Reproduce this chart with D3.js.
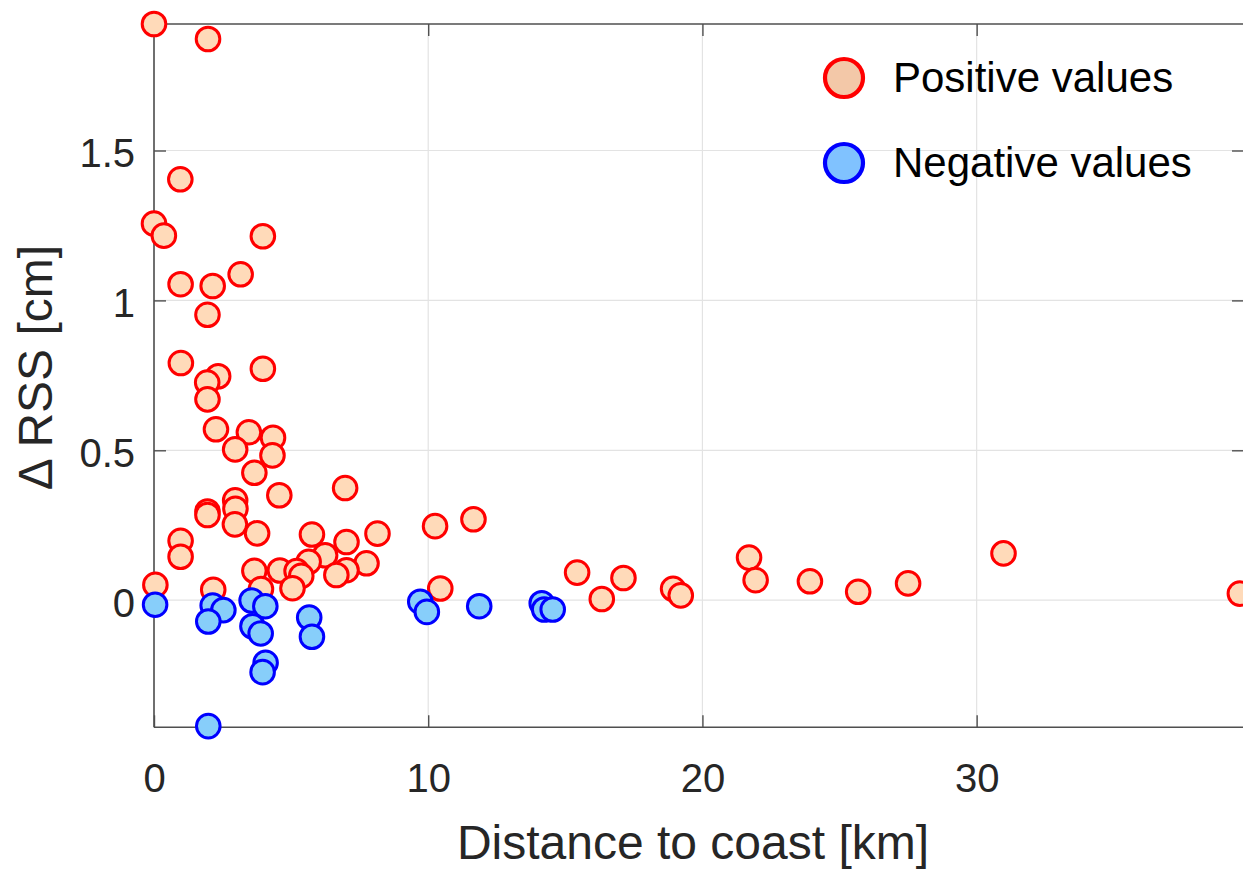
<!DOCTYPE html>
<html>
<head>
<meta charset="utf-8">
<script src="https://cdn.jsdelivr.net/npm/d3@7"></script>
<style>
  html, body { margin: 0; padding: 0; background: #ffffff; }
  svg { display: block; font-family: "Liberation Sans", Arial, sans-serif; }
</style>
</head>
<body>
<svg id="chart" width="1243" height="870"></svg>
<script>
// Distance to coast [km] and ΔRSS [cm] for stations with positive change
const posX = [0.00, 1.97, 0.96, 0.00, 0.36, 3.97, 0.97, 2.14, 3.16, 1.95,
              0.98, 3.97, 2.34, 1.94, 1.95, 2.26, 3.46, 4.34, 2.96, 4.32,
              3.66, 4.57, 6.97, 2.96, 2.97, 1.95, 1.95, 2.95, 3.76, 5.76,
              8.15, 7.02, 0.97, 0.97, 6.24, 5.64, 7.75, 7.02, 6.65, 3.66,
              4.59, 5.20, 5.37, 5.05, 3.90, 0.05, 2.16, 10.25, 11.65, 10.44,
              15.43, 16.33, 17.12, 18.93, 19.21, 21.70, 21.94, 23.92, 25.68, 27.50,
              30.98, 39.60];
const posY = [1.922, 1.872, 1.404, 1.256, 1.216, 1.214, 1.054, 1.048, 1.087, 0.952,
              0.791, 0.772, 0.747, 0.726, 0.670, 0.570, 0.560, 0.542, 0.503, 0.483,
              0.425, 0.350, 0.374, 0.333, 0.305, 0.296, 0.284, 0.253, 0.223, 0.219,
              0.222, 0.194, 0.198, 0.145, 0.150, 0.128, 0.123, 0.100, 0.084, 0.098,
              0.099, 0.097, 0.081, 0.040, 0.037, 0.051, 0.035, 0.247, 0.270, 0.039,
              0.092, 0.004, 0.074, 0.038, 0.016, 0.142, 0.067, 0.063, 0.028, 0.056,
              0.156, 0.022];

// Stations with negative change
const negX = [0.04, 2.14, 2.53, 1.98, 3.56, 4.06, 3.59, 3.89, 5.66, 5.76,
              4.07, 3.96, 1.98, 9.71, 9.95, 11.86, 14.14, 14.23, 14.54];
const negY = [-0.015, -0.018, -0.033, -0.071, -0.001, -0.020, -0.087, -0.111, -0.058, -0.122,
              -0.209, -0.240, -0.420, -0.005, -0.039, -0.020, -0.010, -0.031, -0.031];

const xTicks = [0, 10, 20, 30];
const yTicks = [0, 0.5, 1, 1.5];
const yTickLabels = ["0", "0.5", "1", "1.5"];
const seriesNames = ["Positive values", "Negative values"];

const svg = d3.select("#chart");
const plotL = 154, plotR = 1244, plotT = 24, plotB = 727.3;

const x = d3.scaleLinear().domain([0, 39.75]).range([plotL, plotR]);
const y = d3.scaleLinear().domain([-0.424, 1.922]).range([plotB, plotT]);

const axisColor = "#4f4f4f";
const textColor = "#262626";

// grid
const grid = svg.append("g");
grid.selectAll("line.gx").data(xTicks).join("line")
  .attr("class", "gx")
  .attr("x1", d => x(d)).attr("x2", d => x(d))
  .attr("y1", plotT).attr("y2", plotB)
  .attr("stroke", "#e3e3e3").attr("stroke-width", 1.2);
grid.selectAll("line.gy").data(yTicks).join("line")
  .attr("class", "gy")
  .attr("x1", plotL).attr("x2", plotR)
  .attr("y1", d => y(d)).attr("y2", d => y(d))
  .attr("stroke", "#e3e3e3").attr("stroke-width", 1.2);

// axes box with inward ticks
const tickLen = 12;
const axB = d3.axisBottom(x).tickValues(xTicks).tickSize(-tickLen).tickFormat(d3.format("d")).tickPadding(36);
const axT = d3.axisTop(x).tickValues(xTicks).tickSize(-tickLen).tickFormat("");
const axL = d3.axisLeft(y).tickValues(yTicks).tickSize(-tickLen)
  .tickFormat((d, i) => yTickLabels[i]).tickPadding(19);
const axR = d3.axisRight(y).tickValues(yTicks).tickSize(-tickLen).tickFormat("");

function styleAxis(g) {
  g.select(".domain").attr("stroke", axisColor).attr("stroke-width", 1.6);
  g.selectAll(".tick line").attr("stroke", axisColor).attr("stroke-width", 1.4);
  g.selectAll(".tick text").attr("fill", textColor)
    .style("font-family", "'Liberation Sans', Arial, sans-serif").style("font-size", "40px");
}
svg.append("g").attr("transform", `translate(0,${plotB})`).call(axB).call(styleAxis)
  .call(g => g.select(".domain").attr("d", `M${plotL},0H${plotR}`))
  .call(g => g.selectAll(".tick text").attr("dy", "0.71em"));
svg.append("g").attr("transform", `translate(0,${plotT})`).call(axT).call(styleAxis)
  .call(g => g.select(".domain").attr("d", `M${plotL},0H${plotR}`));
svg.append("g").attr("transform", `translate(${plotL},0)`).call(axL).call(styleAxis)
  .call(g => g.select(".domain").attr("d", `M0,${plotB}V${plotT}`))
  .call(g => g.selectAll(".tick text").attr("dy", "0.40em"));
svg.append("g").attr("transform", `translate(${plotR},0)`).call(axR).call(styleAxis)
  .call(g => g.select(".domain").attr("d", `M0,${plotB}V${plotT}`));

// axis labels
svg.append("text")
  .attr("x", (plotL + plotR) / 2 - 6).attr("y", 859)
  .attr("text-anchor", "middle").attr("fill", textColor)
  .style("font-size", "48px")
  .text("Distance to coast [km]");
svg.append("text")
  .attr("transform", `translate(52,${(plotT + plotB) / 2 - 8}) rotate(-90)`)
  .attr("text-anchor", "middle").attr("fill", textColor)
  .style("font-size", "48px")
  .text("\u0394 RSS [cm]");

// markers
const pos = posX.map((v, i) => ({ x: v, y: posY[i] }));
const neg = negX.map((v, i) => ({ x: v, y: negY[i] }));

svg.append("g").selectAll("circle").data(pos).join("circle")
  .attr("cx", d => x(d.x)).attr("cy", d => y(d.y)).attr("r", 11.8)
  .attr("fill", "#ffdab9").attr("stroke", "#ff0000").attr("stroke-width", 3);
svg.append("g").selectAll("circle").data(neg).join("circle")
  .attr("cx", d => x(d.x)).attr("cy", d => y(d.y)).attr("r", 11.8)
  .attr("fill", "#87cefa").attr("stroke", "#0000ff").attr("stroke-width", 3);

// legend
const legend = svg.append("g");
const legendItems = [
  { name: seriesNames[0], fill: "#f3c8a8", stroke: "#ff0000", cy: 78 },
  { name: seriesNames[1], fill: "#80c2ff", stroke: "#0000ff", cy: 163 }
];
legend.selectAll("circle").data(legendItems).join("circle")
  .attr("cx", 844).attr("cy", d => d.cy).attr("r", 19)
  .attr("fill", d => d.fill).attr("stroke", d => d.stroke).attr("stroke-width", 4.2);
legend.selectAll("text").data(legendItems).join("text")
  .attr("x", 893).attr("y", d => d.cy + 14)
  .attr("fill", "#000000").style("font-size", "42px")
  .text(d => d.name);
</script>
</body>
</html>
